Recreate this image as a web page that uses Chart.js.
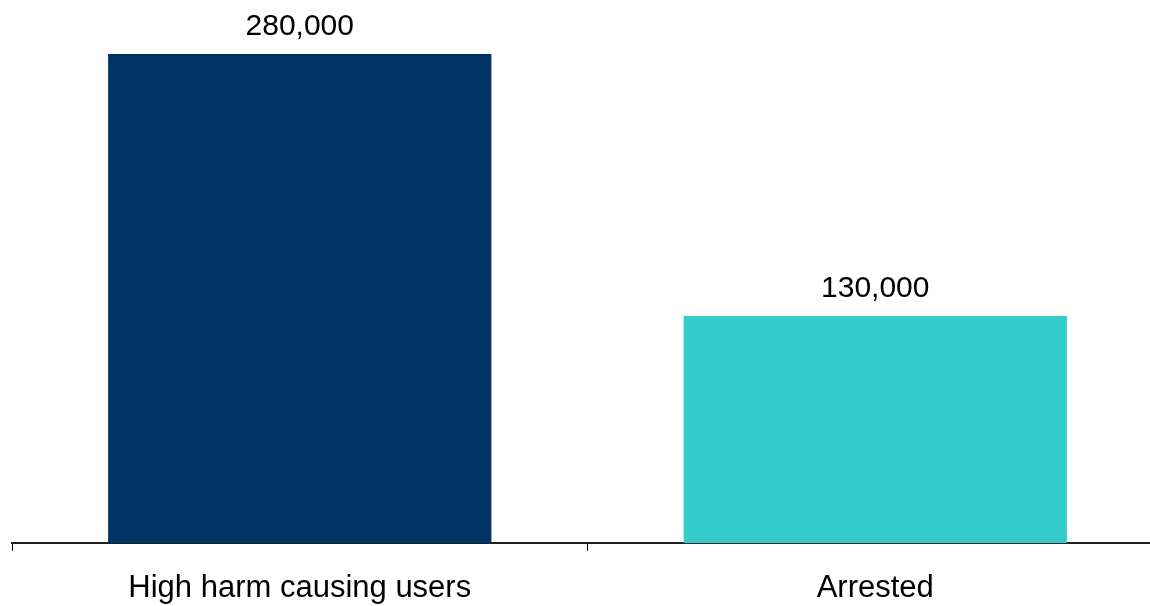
<!DOCTYPE html>
<html>
<head>
<meta charset="utf-8">
<script src="https://cdn.jsdelivr.net/npm/chart.js@4/dist/chart.umd.min.js"></script>
<style>
  html, body { margin: 0; padding: 0; background: #fff; overflow: hidden; }
  #wrap { width: 1175px; height: 606px; position: relative; }
</style>
</head>
<body>
<div id="wrap"><canvas id="barChart"></canvas></div>
<script>
const categories = ['High harm causing users', 'Arrested'];
const values = [280000, 130000];
const barColors = ['#003366', '#33CCCC'];

const fontFamily = '"Liberation Sans", Arial, sans-serif';

// draws the number above each bar
const valueLabels = {
    id: 'valueLabels',
    afterDatasetsDraw(chart) {
        const ctx = chart.ctx;
        const meta = chart.getDatasetMeta(0);
        ctx.save();
        ctx.font = '30px ' + fontFamily;
        ctx.fillStyle = '#000';
        ctx.textAlign = 'center';
        ctx.textBaseline = 'alphabetic';
        meta.data.forEach((bar, i) => {
            const v = chart.data.datasets[0].data[i];
            ctx.fillText(v.toLocaleString('en-US'), bar.x, bar.y - 19);
        });
        ctx.restore();
    }
};

const data = {
    labels: categories,
    datasets: [{
        data: values,
        backgroundColor: barColors,
        borderWidth: 0,
        categoryPercentage: 1,
        barPercentage: 0.666
    }]
};

window.onload = function () {
    const ctx = document.getElementById('barChart').getContext('2d');
    window.barChart = new Chart(ctx, {
        type: 'bar',
        data: data,
        plugins: [valueLabels],
        options: {
            responsive: true,
            maintainAspectRatio: false,
            animation: false,
            layout: { padding: { left: 12, right: 12, top: 19, bottom: 0 } },
            plugins: {
                legend: { display: false },
                tooltip: { enabled: false }
            },
            scales: {
                x: {
                    afterFit(scale) {
                        scale.height = 63;
                    },
                    grid: {
                        offset: true,
                        drawOnChartArea: false,
                        tickLength: 8,
                        tickColor: '#000',
                        tickWidth: 1
                    },
                    border: { display: true, color: '#222', width: 2 },
                    ticks: {
                        color: '#000',
                        padding: 19,
                        font: { family: fontFamily, size: 31 }
                    }
                },
                y: {
                    display: false,
                    min: 0,
                    max: 300000
                }
            }
        }
    });
};
</script>
</body>
</html>
